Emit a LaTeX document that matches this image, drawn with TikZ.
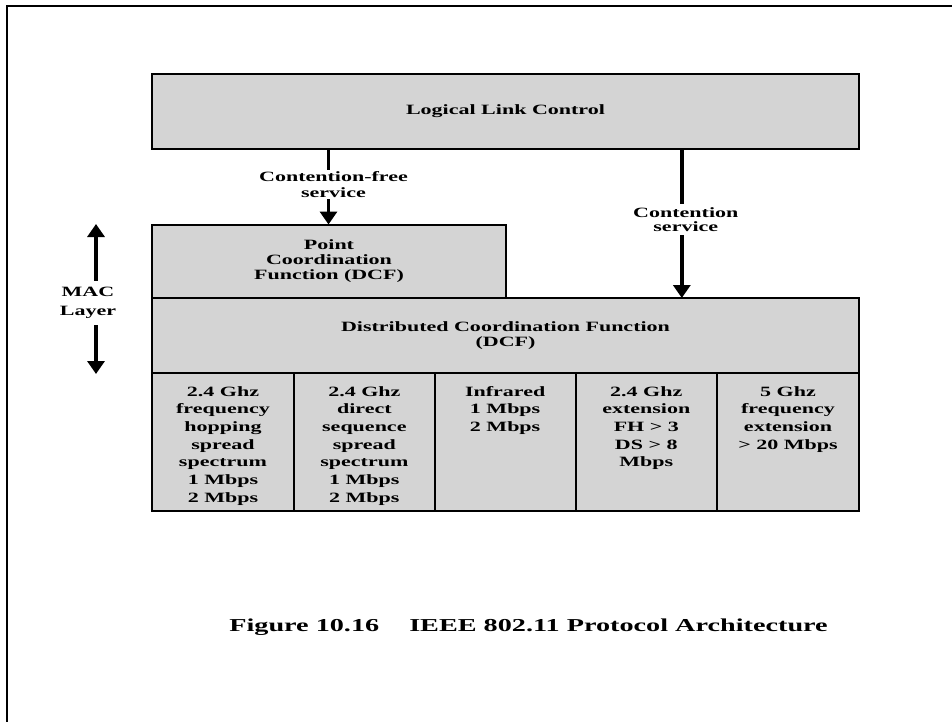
\documentclass[tikz,border=0pt]{standalone}
\usepackage{fontspec}
\setmainfont{Liberation Serif}[FakeStretch=1.55]
\usetikzlibrary{arrows.meta}
\definecolor{boxgray}{RGB}{212,212,212}
\newcommand\mybody{\bfseries\fontsize{14.2}{17.7}\selectfont}
\newcommand\mylab{\bfseries\fontsize{14.2}{15.5}\selectfont}
\tikzset{
  box/.style={draw=black, line width=2pt, fill=boxgray, inner sep=0pt, outer sep=0pt, align=center},
  celltext/.style={anchor=north, inner sep=0pt, align=center, font=\mybody},
  arr/.style={line width=3.5pt, -{Triangle[width=17pt,length=13pt]}},
  dblarr/.style={line width=3.5pt, {Triangle[width=17pt,length=13pt]}-{Triangle[width=17pt,length=13pt]}},
  lab/.style={fill=white, align=center, font=\mylab}
}
\begin{document}
\begin{tikzpicture}[x=1pt,y=-1pt]
\useasboundingbox (0,0) rectangle (952,722);
\draw[line width=2pt] (6.5,722) -- (6.5,6.5) -- (952,6.5);

\node[box, minimum width=707pt, minimum height=75pt, font=\mybody] (llc) at (505.5,111.5) {Logical Link Control};
\node[box, minimum width=354pt, minimum height=74pt, font=\bfseries\fontsize{14.2}{15}\selectfont] (pcf) at (329,261.5) {Point\\Coordination\\Function (DCF)};
\node[box, minimum width=707pt, minimum height=75pt, font=\bfseries\fontsize{14.2}{14.7}\selectfont] (dcf) at (505.5,335.5) {Distributed Coordination Function\\(DCF)};

\node[box, minimum width=142pt, minimum height=138pt] (c1) at (223,442) {};
\node[box, minimum width=140.7pt, minimum height=138pt] (c2) at (364.35,442) {};
\node[box, minimum width=140.9pt, minimum height=138pt] (c3) at (505.15,442) {};
\node[box, minimum width=141.4pt, minimum height=138pt] (c4) at (646.3,442) {};
\node[box, minimum width=142pt, minimum height=138pt] (c5) at (788,442) {};

\node[celltext] (t1) at ([yshift=-13pt]c1.north) {2.4 Ghz\\frequency\\hopping\\spread\\spectrum\\1 Mbps\\2 Mbps};
\node[celltext] (t2) at ([yshift=-13pt]c2.north) {2.4 Ghz\\direct\\sequence\\spread\\spectrum\\1 Mbps\\2 Mbps};
\node[celltext] (t3) at ([yshift=-13pt]c3.north) {Infrared\\1 Mbps\\2 Mbps};
\node[celltext] (t4) at ([yshift=-13pt]c4.north) {2.4 Ghz\\extension\\FH {>} 3\\DS {>} 8\\Mbps};
\node[celltext] (t5) at ([yshift=-13pt]c5.north) {5 Ghz\\frequency\\extension\\{>} 20 Mbps};

\coordinate (a1) at (328.5,0);
\coordinate (a2) at (681.8,0);
\draw[arr] (llc.south -| a1) -- (pcf.north -| a1);
\draw[arr] (llc.south -| a2) -- (dcf.north -| a2);
\node[lab, inner xsep=2pt, inner ysep=1.5pt, font=\bfseries\fontsize{14.2}{16}\selectfont] (cfs) at (333.5,184.5) {Contention-free\\service};
\node[lab, inner xsep=2pt, inner ysep=3pt, font=\bfseries\fontsize{14.2}{14.3}\selectfont] (cs) at (685.8,219.5) {Contention\\service};

\coordinate (mtop) at (96,224);
\coordinate (mbot) at (96,374);
\draw[dblarr] (mtop) -- (mbot);
\node[lab, inner xsep=2pt, inner ysep=6pt, font=\bfseries\fontsize{14.2}{19.4}\selectfont] (mac) at (88,302.7) {MAC\\Layer};

\node[font=\bfseries\fontsize{18.2}{20}\selectfont, inner sep=0pt] (cap) at (528.5,627.6) {Figure 10.16\hspace{30pt}IEEE 802.11 Protocol Architecture};
\end{tikzpicture}
\end{document}
